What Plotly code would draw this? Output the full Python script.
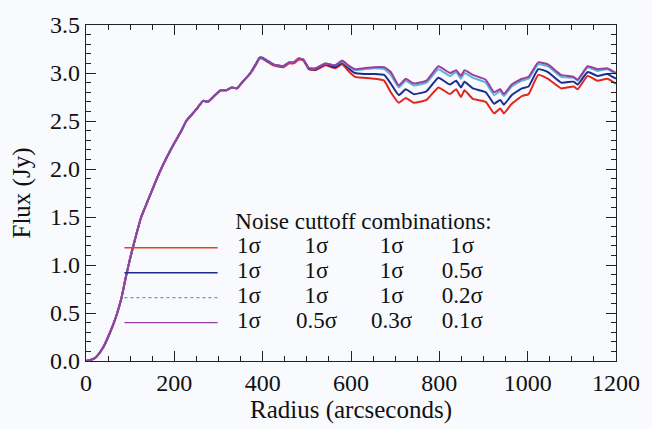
import plotly.graph_objects as go

radius = [0, 10, 20, 30, 40, 50, 60, 70, 80, 90, 100, 110, 125, 140, 155, 170, 185, 200, 215, 227,
          240, 253, 265, 276, 290, 305, 318, 330, 342, 355, 371, 385, 393, 400, 410, 424, 446, 460, 470, 482,
          492, 505, 520, 542, 564, 580, 594, 609, 630, 653, 675, 690, 708, 724, 742, 771, 798, 824, 838, 849,
          857, 876, 905, 924, 938, 946, 964, 987, 1002, 1024, 1046, 1076, 1104, 1113, 1136, 1158, 1180, 1200]

flux_1_1_1_01 = [0.0, 0.01, 0.03, 0.08, 0.15, 0.25, 0.36, 0.49, 0.65, 0.87, 1.07, 1.25, 1.50, 1.67, 1.84, 2.00, 2.14, 2.27, 2.39, 2.50,
                 2.57, 2.64, 2.71, 2.70, 2.76, 2.82, 2.82, 2.85, 2.84, 2.91, 2.99, 3.09, 3.16, 3.15, 3.12, 3.09, 3.07, 3.11, 3.11, 3.15,
                 3.14, 3.05, 3.05, 3.10, 3.08, 3.13, 3.08, 3.04, 3.05, 3.06, 3.06, 3.01, 2.87, 2.94, 2.89, 2.92, 3.07, 3.00, 3.03, 2.97,
                 3.03, 2.98, 2.93, 2.80, 2.83, 2.78, 2.88, 2.94, 2.96, 3.11, 3.09, 2.98, 2.96, 2.93, 3.07, 3.04, 3.05, 3.00]

flux_1_1_1_02 = [0.0, 0.01, 0.03, 0.08, 0.15, 0.25, 0.36, 0.49, 0.65, 0.87, 1.07, 1.25, 1.50, 1.67, 1.84, 2.00, 2.14, 2.27, 2.39, 2.50,
                 2.57, 2.64, 2.71, 2.70, 2.76, 2.82, 2.82, 2.85, 2.84, 2.91, 2.99, 3.09, 3.16, 3.15, 3.12, 3.09, 3.07, 3.11, 3.11, 3.15,
                 3.14, 3.05, 3.05, 3.10, 3.08, 3.12, 3.07, 3.03, 3.04, 3.05, 3.04, 2.98, 2.85, 2.92, 2.87, 2.90, 3.04, 2.97, 3.01, 2.94,
                 3.00, 2.95, 2.90, 2.77, 2.81, 2.76, 2.86, 2.92, 2.94, 3.09, 3.07, 2.96, 2.95, 2.92, 3.06, 3.02, 3.04, 2.99]

flux_1_1_1_05 = [0.0, 0.01, 0.03, 0.08, 0.15, 0.25, 0.36, 0.49, 0.65, 0.87, 1.07, 1.25, 1.50, 1.67, 1.84, 2.00, 2.14, 2.27, 2.39, 2.50,
                 2.57, 2.64, 2.71, 2.70, 2.76, 2.82, 2.82, 2.85, 2.84, 2.91, 2.99, 3.10, 3.16, 3.16, 3.13, 3.09, 3.07, 3.11, 3.11, 3.15,
                 3.14, 3.04, 3.04, 3.09, 3.06, 3.11, 3.05, 3.00, 2.99, 2.99, 2.98, 2.89, 2.77, 2.83, 2.78, 2.81, 2.95, 2.88, 2.92, 2.85,
                 2.91, 2.84, 2.80, 2.68, 2.72, 2.67, 2.77, 2.84, 2.86, 3.04, 3.01, 2.90, 2.91, 2.88, 3.01, 2.97, 2.99, 2.94]

flux_1_1_1_1 = [0.0, 0.01, 0.03, 0.08, 0.15, 0.25, 0.36, 0.49, 0.65, 0.87, 1.07, 1.25, 1.50, 1.67, 1.84, 2.00, 2.14, 2.27, 2.39, 2.50,
                2.57, 2.64, 2.71, 2.70, 2.76, 2.82, 2.82, 2.85, 2.84, 2.91, 2.99, 3.09, 3.15, 3.15, 3.12, 3.08, 3.06, 3.10, 3.10, 3.14,
                3.13, 3.04, 3.03, 3.08, 3.05, 3.09, 3.02, 2.96, 2.95, 2.94, 2.92, 2.80, 2.69, 2.74, 2.69, 2.72, 2.85, 2.78, 2.83, 2.75,
                2.82, 2.73, 2.70, 2.58, 2.63, 2.58, 2.68, 2.76, 2.78, 2.98, 2.94, 2.84, 2.86, 2.83, 2.97, 2.92, 2.94, 2.89]

series = [
    (flux_1_1_1_1, "#e3261c"),
    (flux_1_1_1_05, "#1c2d8c"),
    (flux_1_1_1_02, "#5fb4dc"),
    (flux_1_1_1_01, "#9a3d9c"),
]
legend_colors = ["#e8401a", "#1c2d8c", "#4aa8d4", "#9a3d9c"]

legend_title = "Noise cuttoff combinations:"
legend_rows = [
    ["1σ", "1σ", "1σ", "1σ"],
    ["1σ", "1σ", "1σ", "0.5σ"],
    ["1σ", "1σ", "1σ", "0.2σ"],
    ["1σ", "0.5σ", "0.3σ", "0.1σ"],
]
legend_y = [1.18, 0.92, 0.66, 0.40]
legend_line_x = [87, 298]
legend_col_x = [369, 522, 692, 852]
legend_title_xy = (338, 1.44)
legend_dash = ["solid", "solid", "dot", "solid"]

FONT = "Liberation Serif"
LEG_SIZE = 23

fig = go.Figure()
for vals, col in series:
    fig.add_trace(go.Scatter(x=radius, y=vals, mode="lines",
                             line=dict(color=col, width=2, shape="spline", smoothing=0.4),
                             showlegend=False, hoverinfo="skip"))

for col, y, dash in zip(legend_colors, legend_y, legend_dash):
    fig.add_trace(go.Scatter(x=legend_line_x, y=[y, y], mode="lines",
                             line=dict(color=col, width=1.4, dash=dash),
                             showlegend=False, hoverinfo="skip"))

# legend title
fig.add_trace(go.Scatter(x=[legend_title_xy[0]], y=[legend_title_xy[1]], mode="text",
                         text=[legend_title], textposition="middle right",
                         textfont=dict(family=FONT, size=LEG_SIZE, color="#111"),
                         showlegend=False, hoverinfo="skip"))
# legend rows
for row, y in zip(legend_rows, legend_y):
    fig.add_trace(go.Scatter(x=legend_col_x, y=[y] * len(row), mode="text",
                             text=row, textposition="middle center",
                             textfont=dict(family=FONT, size=LEG_SIZE, color="#111"),
                             showlegend=False, hoverinfo="skip"))

axis_common = dict(
    showgrid=False, zeroline=False, showline=True, linecolor="#222", linewidth=1.3,
    mirror="allticks", ticks="inside", ticklen=10, tickwidth=1.2, tickcolor="#222",
    tickfont=dict(family=FONT, size=24, color="#111"),
)

fig.update_layout(
    width=652, height=429,
    margin=dict(l=86, r=24, t=13, b=68),
    paper_bgcolor="#f8fafd", plot_bgcolor="#f8fafd",
    xaxis=dict(range=[0, 1200], tickvals=[0, 200, 400, 600, 800, 1000, 1200],
               minor=dict(dtick=50, ticks="inside", ticklen=5, tickcolor="#222"),
               title=dict(text="Radius (arcseconds)", font=dict(family=FONT, size=25, color="#111"), standoff=2),
               **axis_common),
    yaxis=dict(range=[0, 3.5], tickvals=[0, 0.5, 1, 1.5, 2, 2.5, 3, 3.5], tickformat=".1f",
               minor=dict(dtick=0.1, ticks="inside", ticklen=5, tickcolor="#222"),
               title=dict(text="Flux (Jy)", font=dict(family=FONT, size=25, color="#111"), standoff=12),
               **axis_common),
)

fig.write_html("out.html")
